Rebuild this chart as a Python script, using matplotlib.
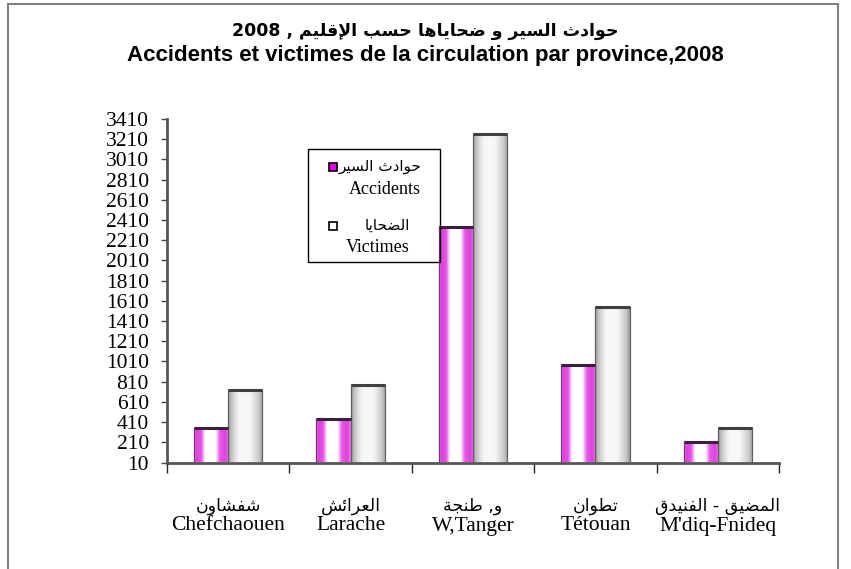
import re
import numpy as np
import matplotlib
matplotlib.use("Agg")
import matplotlib.pyplot as plt
import matplotlib.transforms as mtransforms
from matplotlib.patches import Rectangle
from matplotlib.lines import Line2D

# data
provinces_ar = ["شفشاون", "العرائش", "و, طنجة", "تطوان", "المضيق - الفنيدق"]
provinces_fr = ["Chefchaouen", "Larache", "W,Tanger", "Tétouan", "M'diq-Fnideq"]
accidents = [350, 440, 2340, 980, 210]
victimes = [730, 780, 3260, 1550, 350]
yticks = list(range(10, 3411, 200))

title_ar = "حوادث السير و ضحاياها حسب الإقليم , 2008"
title_fr = "Accidents et victimes de la circulation par province,2008"
legend_ar = ["حوادث السير", "الضحايا"]
legend_fr = ["Accidents", "Victimes"]

# arabic shaping by hand (no reshaper lib available)
# (isolated, final, initial, medial)
FORMS = {
    'ا': (0xFE8D, 0xFE8E, None, None), 'إ': (0xFE87, 0xFE88, None, None),
    'أ': (0xFE83, 0xFE84, None, None), 'ب': (0xFE8F, 0xFE90, 0xFE91, 0xFE92),
    'ة': (0xFE93, 0xFE94, None, None), 'ت': (0xFE95, 0xFE96, 0xFE97, 0xFE98),
    'ث': (0xFE99, 0xFE9A, 0xFE9B, 0xFE9C), 'ج': (0xFE9D, 0xFE9E, 0xFE9F, 0xFEA0),
    'ح': (0xFEA1, 0xFEA2, 0xFEA3, 0xFEA4), 'خ': (0xFEA5, 0xFEA6, 0xFEA7, 0xFEA8),
    'د': (0xFEA9, 0xFEAA, None, None), 'ذ': (0xFEAB, 0xFEAC, None, None),
    'ر': (0xFEAD, 0xFEAE, None, None), 'ز': (0xFEAF, 0xFEB0, None, None),
    'س': (0xFEB1, 0xFEB2, 0xFEB3, 0xFEB4), 'ش': (0xFEB5, 0xFEB6, 0xFEB7, 0xFEB8),
    'ص': (0xFEB9, 0xFEBA, 0xFEBB, 0xFEBC), 'ض': (0xFEBD, 0xFEBE, 0xFEBF, 0xFEC0),
    'ط': (0xFEC1, 0xFEC2, 0xFEC3, 0xFEC4), 'ظ': (0xFEC5, 0xFEC6, 0xFEC7, 0xFEC8),
    'ع': (0xFEC9, 0xFECA, 0xFECB, 0xFECC), 'غ': (0xFECD, 0xFECE, 0xFECF, 0xFED0),
    'ف': (0xFED1, 0xFED2, 0xFED3, 0xFED4), 'ق': (0xFED5, 0xFED6, 0xFED7, 0xFED8),
    'ك': (0xFED9, 0xFEDA, 0xFEDB, 0xFEDC), 'ل': (0xFEDD, 0xFEDE, 0xFEDF, 0xFEE0),
    'م': (0xFEE1, 0xFEE2, 0xFEE3, 0xFEE4), 'ن': (0xFEE5, 0xFEE6, 0xFEE7, 0xFEE8),
    'ه': (0xFEE9, 0xFEEA, 0xFEEB, 0xFEEC), 'و': (0xFEED, 0xFEEE, None, None),
    'ى': (0xFEEF, 0xFEF0, None, None), 'ي': (0xFEF1, 0xFEF2, 0xFEF3, 0xFEF4),
    'ئ': (0xFE89, 0xFE8A, 0xFE8B, 0xFE8C),
}
LAM_ALEF = {'ا': (0xFEFB, 0xFEFC, None, None), 'إ': (0xFEF9, 0xFEFA, None, None),
            'أ': (0xFEF7, 0xFEF8, None, None)}


def shape_run(w):
    items = []
    i = 0
    while i < len(w):
        if w[i] == 'ل' and i + 1 < len(w) and w[i + 1] in LAM_ALEF:
            items.append(LAM_ALEF[w[i + 1]])
            i += 2
        else:
            items.append(FORMS[w[i]])
            i += 1
    out = []
    for k, f in enumerate(items):
        jp = k > 0 and items[k - 1][2] is not None
        jn = f[2] is not None and k + 1 < len(items)
        if jp and jn:
            out.append(chr(f[3]))
        elif jp:
            out.append(chr(f[1]))
        elif jn:
            out.append(chr(f[2]))
        else:
            out.append(chr(f[0]))
    return ''.join(out[::-1])


def ar(s):
    # simple right-to-left visual order: arabic runs shaped, digit runs kept, order reversed
    toks = re.findall(r'[\u0600-\u06FF]+|[0-9]+|.', s)
    vis = [shape_run(t) if t[0] in FORMS else t for t in toks]
    return ''.join(vis[::-1])


W, H = 851, 569
fig = plt.figure(figsize=(W / 100, H / 100), dpi=100)

def fx(px):
    return px / W

def fy(py):
    return 1 - py / H

# axes: x 167..779 px, y 10 at 462.5px, 3410 at 119px
ax = fig.add_axes([fx(167), fy(462.5), fx(779) - fx(167), fy(119) - fy(462.5)])

x = np.arange(len(provinces_fr))
bw = 0.28
b1 = ax.bar(x - bw / 2, accidents, bw, color='white', edgecolor='#6a3a6a', lw=0.8, zorder=2)
b2 = ax.bar(x + bw / 2, victimes, bw, color='white', edgecolor='#606060', lw=0.8, zorder=2)

# cylinder-ish shading across each bar
pos = [0, 0.06, 0.2, 0.32, 0.62, 0.74, 0.9, 1.0]
t_mag = np.interp(np.linspace(0, 1, 60), pos, [0.75, 1.0, 0.9, 0.0, 0.0, 0.85, 1.0, 0.7])
mag = np.array([0.88, 0.25, 0.88])
img1 = (1 - t_mag[:, None]) * np.ones(3) + t_mag[:, None] * mag
g = np.interp(np.linspace(0, 1, 60), pos, [0.55, 0.72, 0.88, 0.97, 0.97, 0.9, 0.78, 0.6])
img2 = np.repeat(g[:, None], 3, axis=1)

for bars, img, capc in [(b1, img1, '#3a203a'), (b2, img2, '#404040')]:
    for p in bars:
        x0, w, h = p.get_x(), p.get_width(), p.get_height()
        ax.imshow(img[None, :, :], extent=(x0, x0 + w, 0, h), aspect='auto',
                  zorder=2.5, interpolation='bilinear')
        ax.add_patch(Rectangle((x0, 0), w, h, fill=False, ec=p.get_edgecolor(), lw=0.8, zorder=3))
        ax.plot([x0, x0 + w], [h, h], color=capc, lw=2.2, zorder=3.5, solid_capstyle='butt')

ax.set_xlim(-0.5, len(x) - 0.5)
ax.set_ylim(10, 3410)
ax.set_yticks(yticks)
ax.set_yticklabels([str(v) for v in yticks], family='Liberation Serif', fontsize=15.5)
ax.set_xticks(np.arange(-0.5, len(x), 1.0))
ax.set_xticklabels([])

for s in ['top', 'right']:
    ax.spines[s].set_visible(False)
for s in ['left', 'bottom']:
    ax.spines[s].set_color('#555555')
    ax.spines[s].set_linewidth(2)
ax.tick_params(axis='y', direction='out', length=4, width=1, color='#444444', pad=9)
ax.tick_params(axis='x', direction='out', length=7, width=1, color='#222222')

# category labels
tr = mtransforms.blended_transform_factory(ax.transData, fig.transFigure)
for i in range(len(x)):
    ax.text(x[i], fy(506), ar(provinces_ar[i]), transform=tr, ha='center', va='center',
            family='DejaVu Sans', fontsize=12.5)
    ax.text(x[i], fy(526), provinces_fr[i], transform=tr, ha='center', va='center',
            family='Liberation Serif', fontsize=15.5)

# titles
fig.text(0.5, fy(31), ar(title_ar), ha='center', va='center', family='DejaVu Sans',
         fontsize=12.5, weight='bold')
fig.text(0.5, fy(55), title_fr, ha='center', va='center', family='Liberation Sans',
         fontsize=16, weight='bold')

# legend box
fig.add_artist(Rectangle((fx(308), fy(262)), fx(440) - fx(308), fy(149) - fy(262),
                         transform=fig.transFigure, fill=False, ec='black', lw=1))
fig.add_artist(Rectangle((fx(329), fy(171)), fx(8), 8 / H, transform=fig.transFigure,
                         fc='#ee00ee', ec='black', lw=1.2))
fig.add_artist(Rectangle((fx(329), fy(230)), fx(8), 8 / H, transform=fig.transFigure,
                         fc='white', ec='black', lw=1.2))
fig.text(fx(421), fy(167), ar(legend_ar[0]), ha='right', va='center', family='DejaVu Sans', fontsize=11)
fig.text(fx(421), fy(190), legend_fr[0], ha='right', va='center', family='Liberation Serif', fontsize=13)
fig.text(fx(410), fy(225), ar(legend_ar[1]), ha='right', va='center', family='DejaVu Sans', fontsize=11)
fig.text(fx(410), fy(247), legend_fr[1], ha='right', va='center', family='Liberation Serif', fontsize=13)

# outer frame of the chart area
for xs, ys in [([8, 838], [4, 4]), ([8, 8], [4, 569]), ([838, 838], [4, 569])]:
    fig.add_artist(Line2D([fx(v) for v in xs], [fy(v) for v in ys], transform=fig.transFigure,
                          color='#808080', lw=1.5))

fig.savefig('out.png', dpi=100)
